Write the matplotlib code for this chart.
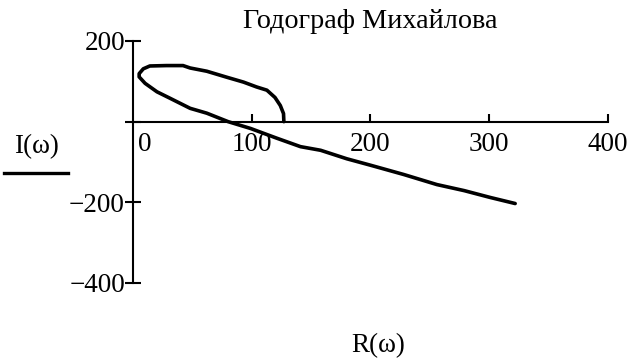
import matplotlib
matplotlib.use("Agg")
import matplotlib.pyplot as plt
from matplotlib.lines import Line2D

# Mikhailov hodograph: real part R(w) and imaginary part I(w), traced from w = 0
R_vals = [127, 126.7, 124, 119.5, 112.7, 104, 93, 79, 62, 48, 42, 28, 14, 8.5, 5, 5,
          10, 20, 31, 48, 62, 80, 99, 121, 141, 158, 180, 200, 228, 256, 279, 301, 322]
I_vals = [0, 20, 40, 60, 78, 86, 98, 110, 125, 133, 139, 139, 138, 131, 119, 111,
          95, 74, 58, 33, 21, 0, -17, -41, -62, -71, -92, -108, -131, -156, -171, -188, -203]

x_ticks = [100, 200, 300, 400]
y_ticks = [-400, -200, 0, 200]
y_tick_labels = ["\u2212400", "\u2212200", "", "200"]

title = "Годограф Михайлова"
x_name = "R(\u03c9)"
y_name = "I(\u03c9)"

FONT = "Liberation Serif"
FS = 19.5
FS_TITLE = 20.3

fig = plt.figure(figsize=(6.35, 3.61), dpi=100)
ax = fig.add_axes([0.2098, 0.2161, 0.7472, 0.6704])

ax.plot(R_vals, I_vals, color="black", lw=2.6, solid_joinstyle="round", solid_capstyle="round")

ax.set_xlim(0, 400)
ax.set_ylim(-400, 200)

# Crossed axes through the origin
for side in ("top", "right"):
    ax.spines[side].set_visible(False)
ax.spines["left"].set_position(("data", 0))
ax.spines["bottom"].set_position(("data", 0))
for side in ("left", "bottom"):
    ax.spines[side].set_linewidth(1.5)

ax.set_xticks(x_ticks)
ax.set_xticklabels([str(v) for v in x_ticks], fontname=FONT, fontsize=FS)
ax.set_yticks(y_ticks)
ax.set_yticklabels(y_tick_labels, fontname=FONT, fontsize=FS)
ax.tick_params(axis="x", direction="in", length=6, width=1.5, pad=7.5)
ax.tick_params(axis="y", direction="inout", length=12, width=1.5, pad=0)

ax.annotate("0", xy=(0, 0), xytext=(8, -7.5), textcoords="offset points",
            ha="center", va="top", fontname=FONT, fontsize=FS)

fig.text(370.5 / 635, 1 - 28 / 361, title, ha="center", va="baseline",
         fontname=FONT, fontsize=FS_TITLE)
fig.text(378 / 635, 1 - 346 / 361, x_name, ha="center", va="center",
         fontname=FONT, fontsize=FS)
fig.text(36 / 635, 1 - 147 / 361, y_name, ha="center", va="center",
         fontname=FONT, fontsize=FS)
fig.add_artist(Line2D([4 / 635, 68 / 635], [1 - 172.7 / 361] * 2,
                      transform=fig.transFigure, color="black", lw=2.4))

fig.savefig("out.png", dpi=100)
